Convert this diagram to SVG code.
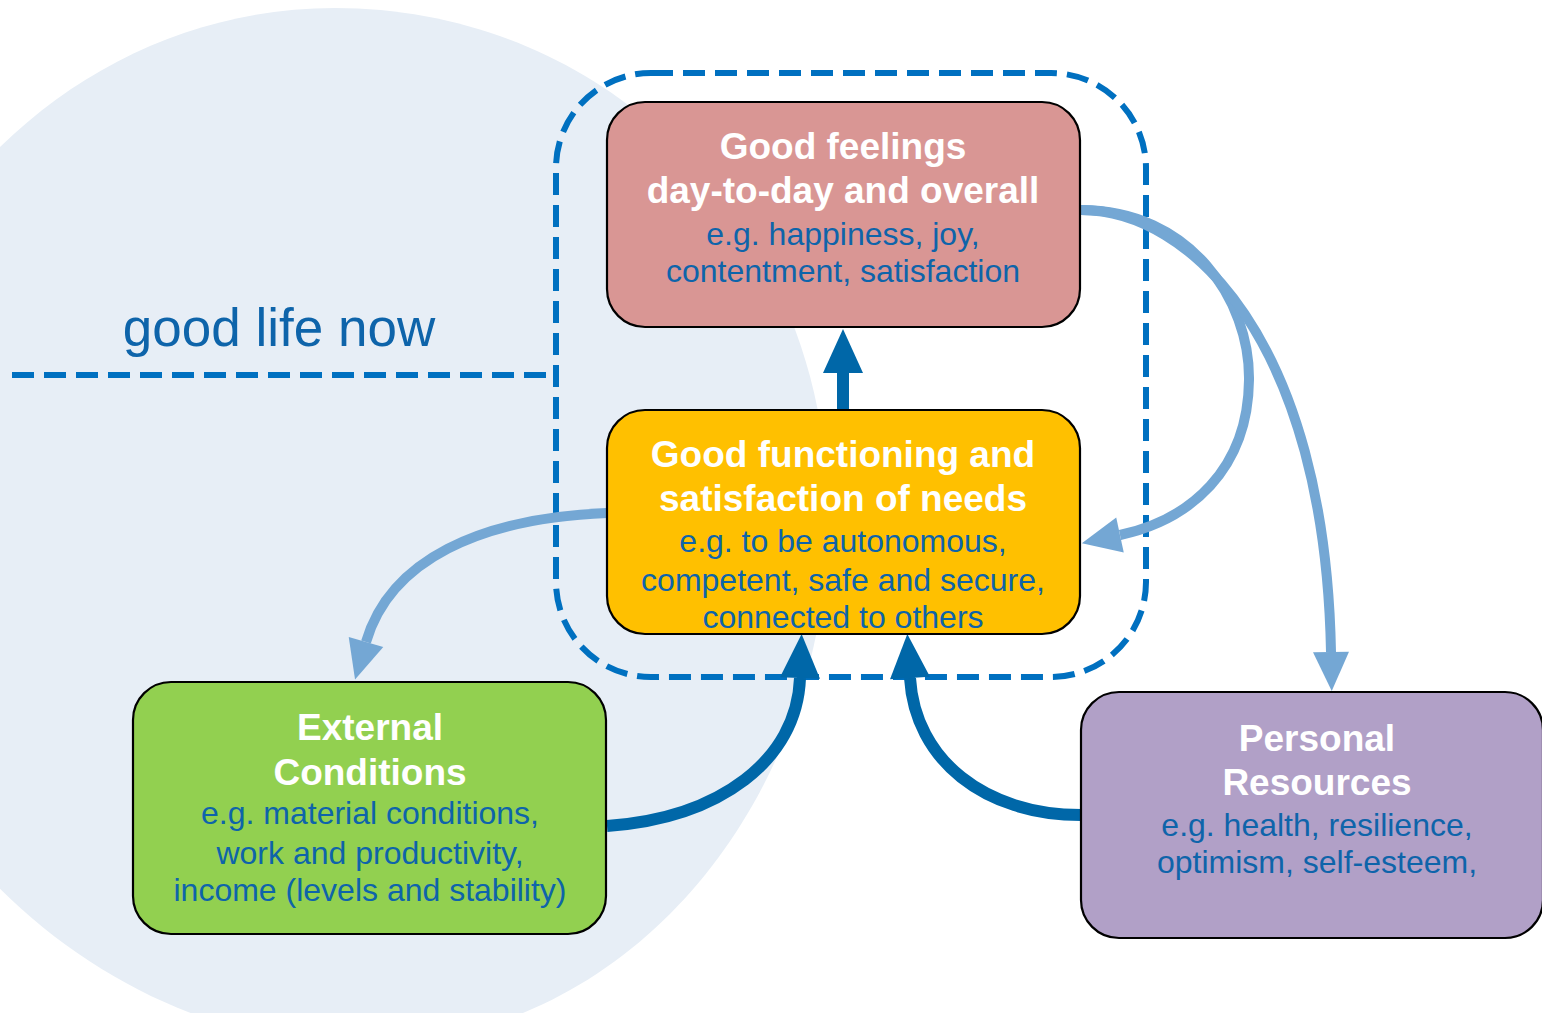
<svg xmlns="http://www.w3.org/2000/svg" width="1542" height="1013" viewBox="0 0 1542 1013">
<style>
.box{stroke:#000;stroke-width:2.2}
.dash{fill:none;stroke:#0070C0;stroke-width:6;stroke-dasharray:22 10}
.t{font-family:"Liberation Sans",Arial,sans-serif;font-weight:bold;font-size:37px;fill:#fff;text-anchor:middle}
.s{font-family:"Liberation Sans",Arial,sans-serif;font-size:32px;fill:#0E64AA;text-anchor:middle}
.dk{fill:none;stroke:#0067A8;stroke-width:12}
.lt{fill:none;stroke:#74A7D4;stroke-width:10}
</style>
<defs>
<marker id="ad" markerUnits="userSpaceOnUse" markerWidth="46" markerHeight="42" refX="0" refY="21" orient="auto" overflow="visible">
<path d="M0,1 L44,21 L0,41 z" fill="#0067A8"/>
</marker>
<marker id="al" markerUnits="userSpaceOnUse" markerWidth="42" markerHeight="38" refX="0" refY="19" orient="auto" overflow="visible">
<path d="M0,1 L39,19 L0,37 z" fill="#74A7D4"/>
</marker>
</defs>
<rect width="1542" height="1013" fill="#fff"/>
<path d="M335,8 C610,8 830,230 828,520 C826,800 630,1045 360,1045 C90,1045 -160,800 -160,520 C-150,230 70,8 335,8 Z" fill="#E7EEF6"/>
<g id="frame">
<rect class="dash" x="556" y="73" width="590" height="604" rx="95"/>
<path class="dash" d="M12 375 H553"/>
<text x="279" y="346" font-family="'Liberation Sans',Arial,sans-serif" font-size="53" fill="#0E64AA" text-anchor="middle">good life now</text>
</g>
<g id="connectors">
<path class="dk" d="M843 410 V373" marker-end="url(#ad)"/>
<path class="dk" d="M607 826 C720 818 797 760 800 678" marker-end="url(#ad)"/>
<path class="dk" d="M1081 815 C985 815 915 760 910 678" marker-end="url(#ad)"/>
<path class="lt" d="M607 513 C480 518 390 560 366 642" marker-end="url(#al)"/>
<path class="lt" d="M1081 210 C1190 210 1250 300 1249 380 C1248 470 1190 520 1120 535" marker-end="url(#al)"/>
<path class="lt" d="M1081 210 C1190 210 1325 340 1331 652" marker-end="url(#al)"/>
</g>
<g id="good-feelings">
<rect class="box" x="607" y="102" width="473" height="225" rx="38" fill="#D99694"/>
<text class="t" x="843" y="159">Good feelings</text>
<text class="t" x="843" y="203">day-to-day and overall</text>
<text class="s" x="843" y="245">e.g. happiness, joy,</text>
<text class="s" x="843" y="282">contentment, satisfaction</text>
</g>
<g id="good-functioning">
<rect class="box" x="607" y="410" width="473" height="224" rx="38" fill="#FFC000"/>
<text class="t" x="843" y="467">Good functioning and</text>
<text class="t" x="843" y="511">satisfaction of needs</text>
<text class="s" x="843" y="552">e.g. to be autonomous,</text>
<text class="s" x="843" y="591">competent, safe and secure,</text>
<text class="s" x="843" y="628">connected to others</text>
</g>
<g id="external-conditions">
<rect class="box" x="133" y="682" width="473" height="252" rx="38" fill="#92D050"/>
<text class="t" x="370" y="740">External</text>
<text class="t" x="370" y="785">Conditions</text>
<text class="s" x="370" y="824">e.g. material conditions,</text>
<text class="s" x="370" y="864">work and productivity,</text>
<text class="s" x="370" y="901">income (levels and stability)</text>
</g>
<g id="personal-resources">
<rect class="box" x="1081" y="692" width="462" height="246" rx="38" fill="#B1A0C7"/>
<text class="t" x="1317" y="751">Personal</text>
<text class="t" x="1317" y="795">Resources</text>
<text class="s" x="1317" y="836">e.g. health, resilience,</text>
<text class="s" x="1317" y="873">optimism, self-esteem,</text>
</g>
</svg>
